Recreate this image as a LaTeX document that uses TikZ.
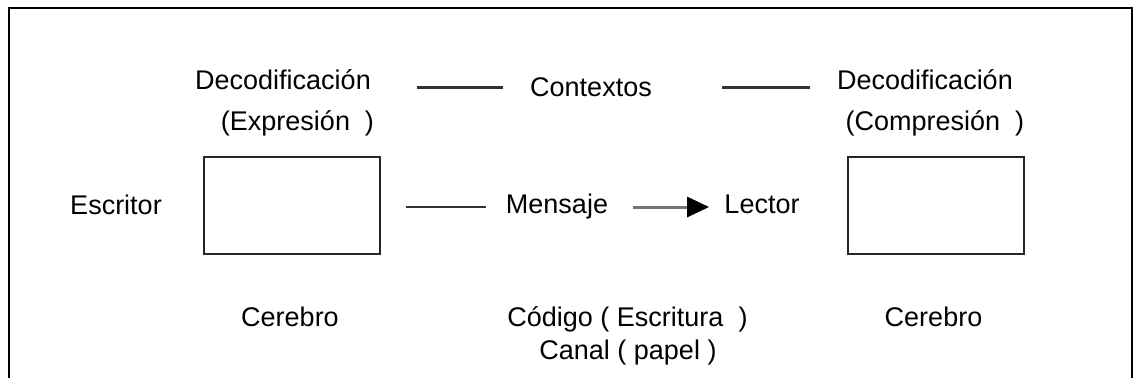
\documentclass[tikz,border=0pt]{standalone}
\usepackage{fontspec}
\setmainfont{Liberation Sans}
\usetikzlibrary{arrows.meta}

\begin{document}
\begin{tikzpicture}[x=0.5pt, y=-0.5pt, font=\fontsize{13.5}{16}\selectfont,
  txt/.style={inner sep=0pt, anchor=base},
  box/.style={draw=black!85, line width=1pt, minimum width=88pt, minimum height=48.5pt, inner sep=0pt},
  rule/.style={draw=black!80, line width=1.2pt},
  flecha/.style={draw=black!55, line width=1.5pt, -{Triangle[length=11pt, width=10pt, color=black]}}]
  \useasboundingbox (0,0) rectangle (1134,378);
  \draw[line width=1pt] (9,378) -- (9,8.5) -- (1131.5,8.5) -- (1131.5,378);

  \node[txt] (A) at (283,89.5) {Decodificación};
  \node[txt] (B) at (297.5,131) {(Expresión\ \ )};
  \node[txt] (C) at (591,97) {Contextos};
  \node[txt] (D) at (925,89.5) {Decodificación};
  \node[txt] (E) at (935,131) {(Compresión\ \ )};

  \node[txt] (F) at (116,215) {Escritor};
  \node[box] (G) at (292,205.5) {};
  \node[txt] (H) at (557,214) {Mensaje};
  \node[txt] (I) at (762,214) {Lector};
  \node[box] (J) at (935.5,205.5) {};

  \node[txt] (K) at (290,327) {Cerebro};
  \node[txt] (L) at (627.5,327) {Código (\ Escritura\ \ )};
  \node[txt] (M) at (628,359.5) {Canal (\ papel )};
  \node[txt] (N) at (933.5,327) {Cerebro};

  \draw[rule, shorten <=23pt, shorten >=13.5pt] (A.east |- C.west) to (C.west);
  \draw[rule, shorten <=35pt, shorten >=13.5pt] (C.east) to (C.east -| D.west);
  \draw[rule, shorten <=12.5pt, shorten >=10pt] (G.east |- H.west) to (H.west);
  \draw[flecha, shorten <=12.5pt, shorten >=7.5pt] (H.east) to (H.east -| I.west);
\end{tikzpicture}
\end{document}
